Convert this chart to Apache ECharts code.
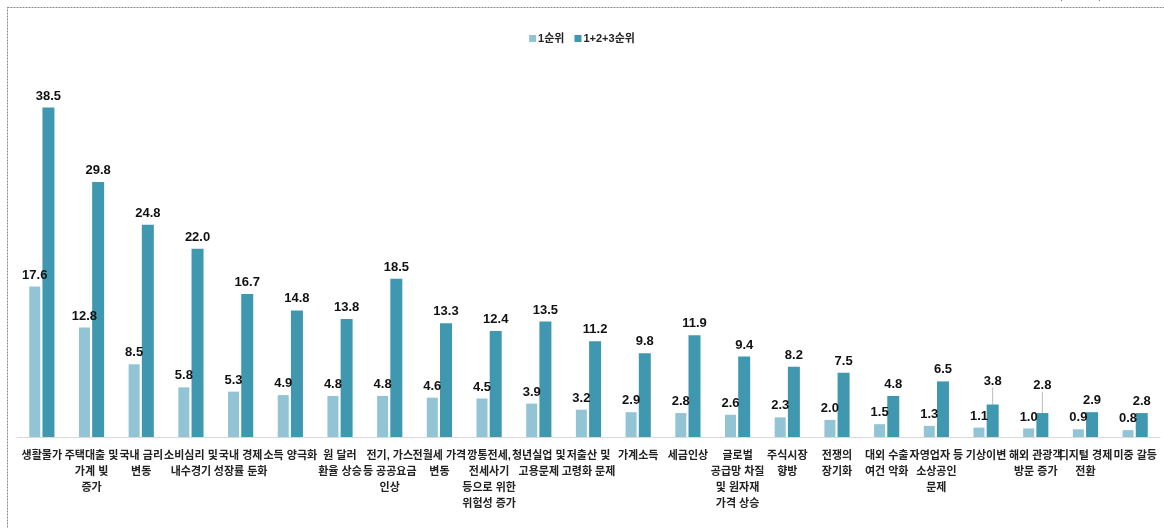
<!DOCTYPE html>
<html><head><meta charset="utf-8">
<script src="https://cdn.jsdelivr.net/npm/echarts@6/dist/echarts.min.js"></script>
<style>html,body{margin:0;padding:0;background:#fff}#c{width:1164px;height:528px}</style>
</head><body><div id="c"></div>
<script>
const categories = ['생활물가','주택대출 및\n가계 빚\n증가','국내 금리\n변동','소비심리 및\n내수경기','국내 경제\n성장률 둔화','소득 양극화','원 달러\n환율 상승','전기, 가스\n등 공공요금\n인상','전월세 가격\n변동','깡통전세,\n전세사기\n등으로 위한\n위험성 증가','청년실업 및\n고용문제','저출산 및\n고령화 문제','가계소득','세금인상','글로벌\n공급망 차질\n및 원자재\n가격 상승','주식시장\n향방','전쟁의\n장기화','대외 수출\n여건 악화','자영업자 등\n소상공인\n문제','기상이변','해외 관광객\n방문 증가','디지털 경제\n전환','미중 갈등'];
const rank1 = [17.6,12.8,8.5,5.8,5.3,4.9,4.8,4.8,4.6,4.5,3.9,3.2,2.9,2.8,2.6,2.3,2.0,1.5,1.3,1.1,1.0,0.9,0.8];
const rank123 = [38.5,29.8,24.8,22.0,16.7,14.8,13.8,18.5,13.3,12.4,13.5,11.2,9.8,11.9,9.4,8.2,7.5,4.8,6.5,3.8,2.8,2.9,2.8];
const seriesNames = ['1순위','1+2+3순위'];
const FONT = "'Liberation Sans','Noto Sans CJK KR',sans-serif";
const chart = echarts.init(document.getElementById('c'));
const lbl = {show:true, position:'top', distance:5, color:'#111', fontWeight:'bold', fontSize:13, fontFamily:FONT, formatter: p => p.value.toFixed(1)};
const movedLabels = {19:-12, 20:-16};
chart.setOption({
  animation:false,
  graphic:[
    {type:'rect', left:5, top:5, shape:{width:1300, height:700}, style:{fill:'none', stroke:'#888', lineWidth:1, lineDash:[2,1]}},
    {type:'text', right:62, top:-11, style:{text:'(단위: %)', fill:'#555', font:"11px 'Noto Sans CJK KR'"}}
  ],
  legend:{top:28, left:'center', itemWidth:7, itemHeight:7, itemGap:10, icon:'rect',
    textStyle:{fontSize:11, fontWeight:'bold', color:'#222', fontFamily:FONT, padding:[0,0,0,-3]}, data:seriesNames},
  grid:{left:17, right:4, top:52, bottom:91},
  xAxis:{type:'category', data:categories,
    axisLine:{lineStyle:{color:'#d9d9d9'}}, axisTick:{show:false},
    axisLabel:{interval:0, margin:11, color:'#222', fontWeight:'bold', fontSize:11, lineHeight:16, fontFamily:FONT, verticalAlign:'top'}},
  yAxis:{type:'value', min:0, max:45, show:false, splitLine:{show:false}},
  series:[
    {name:seriesNames[0], type:'bar', data:rank1, barWidth:11, barGap:'20%', itemStyle:{color:'#93c4d6'}, label:lbl},
    {name:seriesNames[1], type:'bar', data:rank123.map((v,i)=> movedLabels[i]!==undefined ? {value:v, labelLine:{show:true, lineStyle:{color:'#bbb', width:1}}} : v),
      barWidth:12, itemStyle:{color:'#3f98b0'}, label:lbl,
      labelLine:{show:false},
      labelLayout: p => (movedLabels[p.dataIndex]!==undefined ? {dy:movedLabels[p.dataIndex]} : {})}
  ]
});
</script></body></html>
